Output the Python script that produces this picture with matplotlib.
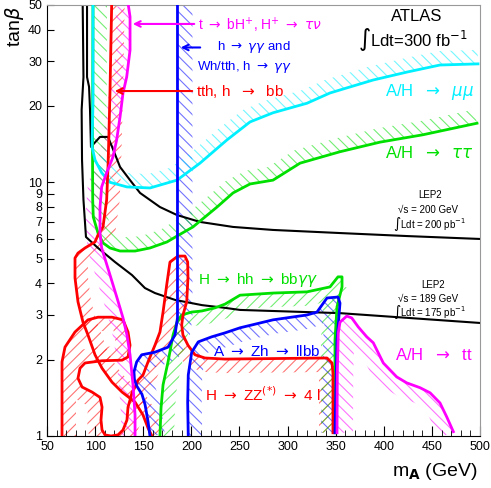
import numpy as np
import matplotlib
matplotlib.use('Agg')
import matplotlib.pyplot as plt
from matplotlib.patches import Polygon

plt.rcParams['font.family'] = ['Liberation Sans', 'DejaVu Sans']
plt.rcParams['mathtext.fontset'] = 'dejavusans'
plt.rcParams['hatch.linewidth'] = 0.8

# LEP2 limits
lep200_m = [91.6, 91.6, 93.7, 94.7, 95.7, 105.1, 113.4, 117.6, 125.9, 136.3, 146.7, 167.4, 185.1, 209.0, 243.3, 284.9, 354.5, 424.1, 500.0]
lep200_tb = [50, 26.0, 23.8, 19.3, 13.8, 15.1, 15.1, 13.8, 11.5, 10.2, 9.08, 7.99, 7.43, 6.98, 6.67, 6.49, 6.31, 6.14, 5.98]
lep189_m = [87.1, 87.9, 86.0, 86.4, 87.9, 90.5, 103.0, 120.7, 138.3, 151.8, 162.2, 183.0, 211.1, 235.0, 250.6, 354.5, 500.0]
lep189_tb = [50, 26.0, 19.3, 12.25, 8.52, 6.09, 5.51, 4.85, 4.31, 3.83, 3.66, 3.44, 3.28, 3.20, 3.14, 3.05, 2.79]

# A/H -> mumu
mumu_m = [97.8, 97.8, 96.8, 99.9, 106.9, 115.5, 133.1, 157.0, 185.1, 209.0, 237.1, 261.0, 284.9, 320.2, 344.1, 388.8, 424.1, 458.4, 497.9]
mumu_tb = [50, 21.1, 13.8, 12.25, 10.9, 10.0, 9.59, 9.5, 10.2, 11.9, 14.7, 17.3, 18.8, 20.5, 22.5, 25.3, 27.2, 29.0, 29.3]

# A/H -> tautau
tautau_m = [97.8, 97.3, 97.5, 98.1, 103.0, 108.2, 115.5, 125.9, 141.5, 157.0, 174.7, 185.1, 201.7, 226.7, 243.3, 261.0, 284.9, 313.0, 354.5, 396.1, 440.8, 496.9]
tautau_tb = [50, 13.4, 8.52, 7.30, 6.31, 5.77, 5.51, 5.36, 5.36, 5.51, 5.82, 6.14, 6.67, 7.99, 9.08, 9.85, 10.2, 11.9, 13.2, 14.4, 15.4, 17.1]

# tth, h -> bb
tthbb_m = [117.2, 115.5, 114.4, 113.4, 112.0, 108.2, 103.0, 99.9, 89.5, 82.2, 79.1, 79.1, 82.2, 87.4, 92.6, 99.9, 107.2, 117.6, 128.0, 141.5, 149.8, 155.0, 159.1]
tthbb_tb = [50, 23.1, 15.6, 11.5, 8.52, 6.67, 6.20, 5.82, 5.51, 5.26, 5.03, 4.20, 3.38, 2.81, 2.50, 2.09, 1.85, 1.63, 1.49, 1.36, 1.21, 1.075, 1.0]

# t -> bH+, H+ -> taunu
hplus_m = [134.5, 136.3, 136.3, 132.8, 129.0, 125.9, 122.4, 118.6, 112.0, 106.8, 105.1, 105.1, 106.8, 115.5, 122.8, 129.0, 133.1, 136.3, 139.4, 141.5, 141.5]
hplus_tb = [50, 44.9, 33.2, 26.0, 22.5, 18.1, 14.7, 12.6, 10.9, 9.59, 7.99, 6.31, 5.51, 4.31, 3.50, 2.92, 2.50, 2.09, 1.59, 1.21, 1.0]

# h -> gamma gamma
hgg_m = [185.6, 185.6, 183.0, 175.8, 162.2, 148.4, 143.2, 140.4, 140.9, 143.5, 148.7, 151.9, 155.0, 157.0]
hgg_tb = [50, 2.92, 2.50, 2.24, 2.14, 2.09, 1.96, 1.79, 1.66, 1.57, 1.46, 1.33, 1.14, 1.0]

# H -> ZZ(*) -> 4l
hzz_m = [65.6, 65.6, 68.7, 79.1, 92.6, 103.0, 117.6, 129.0, 134.2, 136.3, 134.2, 128.0, 107.2, 89.5, 84.3, 82.2, 86.4, 96.8,
         105.1, 107.2, 106.1, 107.2, 110.3, 116.5, 123.8, 129.0, 133.1, 134.2, 136.3, 138.3, 141.5, 144.6, 149.8, 155.0, 162.2,
         167.4, 170.6, 174.4, 177.8, 186.1, 193.4, 196.2, 196.5, 195.2, 191.3, 190.0, 191.3, 196.5, 203.8, 214.2, 235.0, 341.0,
         346.2, 347.2, 347.2]
hzz_tb = [1.0, 1.96, 2.24, 2.57, 2.87, 2.94, 2.94, 2.87, 2.57, 2.28, 2.05, 1.99, 1.98, 1.94, 1.85, 1.69, 1.56, 1.49,
          1.42, 1.30, 1.156, 1.056, 1.01, 1.0, 1.01, 1.056, 1.156, 1.30, 1.387, 1.48, 1.56, 1.66, 1.74, 1.96, 2.28,
          2.57, 3.08, 3.94, 4.85, 5.12, 5.12, 4.85, 4.20, 3.38, 3.00, 2.74, 2.50, 2.28, 2.09, 2.03, 2.01, 2.03,
          1.94, 1.77, 1.03]

# H -> hh -> bb gamma gamma
hhh_m = [167.4, 168.5, 170.6, 175.8, 181.0, 185.1, 190.0, 200.4, 210.8, 224.6, 235.0, 250.6, 284.9, 320.2, 344.1, 352.4, 356.6, 356.6, 351.4, 349.3, 349.3]
hhh_tb = [1.0, 1.29, 1.59, 1.96, 2.50, 2.81, 3.00, 3.08, 3.11, 3.20, 3.31, 3.59, 3.66, 3.70, 3.87, 4.24, 4.24, 3.87, 3.23, 2.39, 1.03]

# A -> Zh -> llbb
azh_m = [196.8, 196.2, 196.8, 200.4, 207.2, 221.2, 235.0, 250.6, 284.9, 320.2, 330.6, 341.0, 352.4, 354.5, 351.4, 349.3]
azh_tb = [1.0, 1.36, 1.74, 2.14, 2.35, 2.46, 2.55, 2.67, 2.87, 3.00, 3.08, 3.50, 3.53, 3.34, 2.39, 1.03]

# A/H -> tt
att_m = [351.4, 351.7, 352.7, 354.5, 361.5, 366.7, 373.5, 382.3, 389.1, 399.5, 413.4, 423.8, 437.7, 448.1, 458.4, 465.4, 472.3]
att_tb = [1.03, 1.77, 2.55, 2.81, 2.97, 2.92, 2.69, 2.46, 2.33, 1.94, 1.71, 1.62, 1.55, 1.48, 1.35, 1.19, 1.04]

ytick_vals = [1, 2, 3, 4, 5, 6, 7, 8, 9, 10, 20, 30, 40, 50]
xtick_vals = [50, 100, 150, 200, 250, 300, 350, 400, 450, 500]

RED = '#ff0000'
MAG = '#ff00ff'
BLUE = '#0000ff'
GREEN = '#00e000'
CYAN = '#00f0ff'
AR = '$\\rightarrow$'

fig = plt.figure(figsize=(4.91, 4.88), dpi=100)
ax = fig.add_axes([47/491, 1-436/488, 433/491, 431/488])
ax.set_yscale('log')
ax.set_xlim(50, 500)
ax.set_ylim(1, 50)


def band(xs, ys, width, side, color, hatch):
    # hatched strip on one side of a curve, width in pixels
    pts = ax.transData.transform(np.column_stack([xs, ys]))
    d = np.gradient(pts, axis=0)
    n = np.column_stack([d[:, 1], -d[:, 0]])
    n /= np.hypot(n[:, 0], n[:, 1])[:, None]
    off = pts + side * width * n
    poly = ax.transData.inverted().transform(np.vstack([pts, off[::-1]]))
    ax.add_patch(Polygon(poly, closed=True, facecolor='none', edgecolor=color,
                         lw=0, hatch=hatch, alpha=0.55, zorder=1))


band(hzz_m, hzz_tb, 14, 1, RED, '///')
band(tthbb_m, tthbb_tb, 13, -1, RED, '///')
band(hplus_m, hplus_tb, 14, 1, MAG, '\\\\\\')
band(att_m, att_tb, 16, 1, MAG, '\\\\\\')
band(hgg_m, hgg_tb, 15, -1, BLUE, '\\\\\\')
band(azh_m, azh_tb, 14, 1, BLUE, '\\\\\\')
band(hhh_m, hhh_tb, 14, 1, GREEN, '///')
band(tautau_m, tautau_tb, 14, -1, GREEN, '\\\\\\')
band(mumu_m[3:], mumu_tb[3:], 14, -1, CYAN, '\\\\\\')

ax.plot(lep200_m, lep200_tb, color='black', lw=1.5, zorder=2)
ax.plot(lep189_m, lep189_tb, color='black', lw=1.5, zorder=2)
ax.plot(tautau_m, tautau_tb, color=GREEN, lw=2, zorder=3)
ax.plot(mumu_m, mumu_tb, color=CYAN, lw=2, zorder=3)
ax.plot(hhh_m, hhh_tb, color=GREEN, lw=2, zorder=3)
ax.plot(hzz_m, hzz_tb, color=RED, lw=2, zorder=3)
ax.plot(tthbb_m, tthbb_tb, color=RED, lw=2, zorder=3)
ax.plot(azh_m, azh_tb, color=BLUE, lw=2, zorder=3)
ax.plot(hgg_m, hgg_tb, color=BLUE, lw=2, zorder=3)
ax.plot(hplus_m, hplus_tb, color=MAG, lw=2, zorder=3)
ax.plot(att_m, att_tb, color=MAG, lw=2, zorder=3)

# labels with arrows
ax.annotate('', xy=(136.3, 42.1), xytext=(205.9, 42.1),
            arrowprops=dict(arrowstyle='->', color=MAG, lw=1.5))
ax.annotate('', xy=(186.1, 34.0), xytext=(212.1, 34.0),
            arrowprops=dict(arrowstyle='->', color=BLUE, lw=1.5))
ax.annotate('', xy=(117.6, 22.9), xytext=(203.8, 22.9),
            arrowprops=dict(arrowstyle='->', color=RED, lw=1.5))
ax.text(207, 41.7, 't ' + AR + ' bH$^{+}$, H$^{+}$ ' + AR + ' $\\tau\\nu$', color=MAG, fontsize=10, va='center')
ax.text(226.7, 34.3, 'h ' + AR + ' $\\gamma\\gamma$ and', color=BLUE, fontsize=9.5, va='center')
ax.text(205.9, 28.6, 'Wh/tth, h ' + AR + ' $\\gamma\\gamma$', color=BLUE, fontsize=9.5, va='center')
ax.text(204.8, 22.9, 'tth, h  ' + AR + '  bb', color=RED, fontsize=11, va='center')

ax.text(434.5, 44.9, 'ATLAS', fontsize=12, ha='center', va='center')
ax.text(430.4, 36.4, '∫Ldt=300 fb$^{-1}$', fontsize=12, ha='center', va='center')

ax.text(401.3, 22.7, 'A/H  ' + AR + '  $\\mu\\mu$', color=CYAN, fontsize=12, va='center')
ax.text(401.3, 13.05, 'A/H  ' + AR + '  $\\tau\\tau$', color=GREEN, fontsize=12, va='center')

ax.text(448, 8.91, 'LEP2', fontsize=7, ha='center', va='center')
ax.text(446, 7.78, '√s = 200 GeV', fontsize=7, ha='center', va='center')
ax.text(448, 6.85, '∫Ldt = 200 pb$^{-1}$', fontsize=7, ha='center', va='center')
ax.text(451, 3.94, 'LEP2', fontsize=7, ha='center', va='center')
ax.text(446, 3.47, '√s = 189 GeV', fontsize=7, ha='center', va='center')
ax.text(448, 3.08, '∫Ldt = 175 pb$^{-1}$', fontsize=7, ha='center', va='center')

ax.text(207, 4.12, 'H ' + AR + ' hh ' + AR + ' bb$\\gamma\\gamma$', color=GREEN, fontsize=11, va='center')
ax.text(222.5, 2.16, 'A ' + AR + ' Zh ' + AR + ' llbb', color=BLUE, fontsize=11, va='center')
ax.text(214.2, 1.45, 'H ' + AR + ' ZZ$^{(*)}$ ' + AR + ' 4 l', color=RED, fontsize=11, va='center')
ax.text(411.7, 2.09, 'A/H  ' + AR + '  tt', color=MAG, fontsize=12, va='center')

ax.set_yticks(ytick_vals)
ax.set_yticklabels([str(v) for v in ytick_vals])
ax.yaxis.set_minor_locator(matplotlib.ticker.NullLocator())
ax.set_xticks(xtick_vals)
ax.set_xticks(np.arange(50, 501, 10), minor=True)
ax.tick_params(axis='both', which='major', direction='in', labelsize=9, length=7, top=False, right=False)
ax.tick_params(axis='x', which='minor', direction='in', length=4, top=False)
ax.tick_params(axis='y', which='major', length=5)
for s in ['top', 'right']:
    ax.spines[s].set_color('#999999')
    ax.spines[s].set_linewidth(0.8)

fig.text(478/491, 1-472/488, 'm$_{\\mathbf{A}}$ (GeV)', fontsize=14, ha='right', va='center')
fig.text(14/491, 1-27/488, 'tan$\\beta$', fontsize=14, rotation=90, ha='center', va='center')

fig.savefig('out.png', dpi=100)
